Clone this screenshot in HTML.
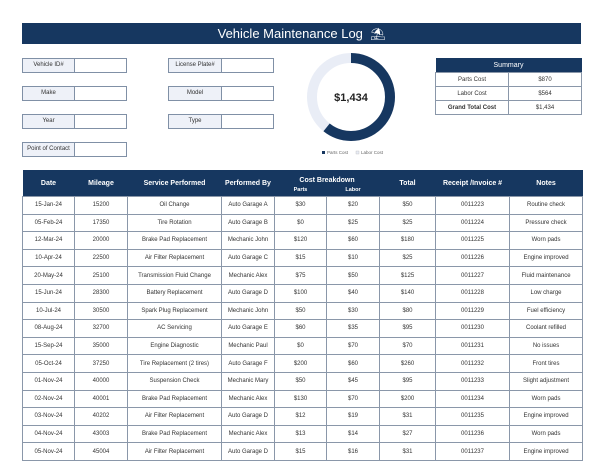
<!DOCTYPE html>
<html><head><style>
body{margin:0;width:600px;height:463px;background:#fff;font-family:"Liberation Sans",sans-serif;position:relative;overflow:hidden}
.a{position:absolute;box-sizing:border-box}
.bar{left:22px;top:23px;width:559px;height:21px;background:#163760;color:#fff;font-size:13px;text-align:center;line-height:21px}
.lb{background:#eef1f8;border:1px solid #8090a6;font-size:6px;color:#333;text-align:center;line-height:13px;height:15px}
.vb{background:#fff;border:1px solid #8090a6;height:15px}
table{border-collapse:collapse;table-layout:fixed;font-size:6px;color:#333}
td{border:1px solid #8a97a9;text-align:center;padding:0;height:16.6px;white-space:nowrap;overflow:hidden}
th{background:#163760;color:#fff;font-size:7px;font-weight:bold;border:none;padding:0}
.s td{height:13px}
</style></head><body>
<div class="a bar">Vehicle Maintenance Log &nbsp;<span style="font-size:12px">⛱</span></div>

<div class="a lb" style="left:22px;top:58px;width:53px">Vehicle ID#</div><div class="a vb" style="left:74px;top:58px;width:53px"></div>
<div class="a lb" style="left:22px;top:86px;width:53px">Make</div><div class="a vb" style="left:74px;top:86px;width:53px"></div>
<div class="a lb" style="left:22px;top:114px;width:53px">Year</div><div class="a vb" style="left:74px;top:114px;width:53px"></div>
<div class="a lb" style="left:22px;top:142px;width:53px">Point of Contact</div><div class="a vb" style="left:74px;top:142px;width:53px"></div>
<div class="a lb" style="left:168px;top:58px;width:54px">License Plate#</div><div class="a vb" style="left:221px;top:58px;width:53px"></div>
<div class="a lb" style="left:168px;top:86px;width:54px">Model</div><div class="a vb" style="left:221px;top:86px;width:53px"></div>
<div class="a lb" style="left:168px;top:114px;width:54px">Type</div><div class="a vb" style="left:221px;top:114px;width:53px"></div>

<svg class="a" style="left:300px;top:50px" width="110" height="110">
<circle cx="51" cy="47" r="39" fill="none" stroke="#e9edf6" stroke-width="10"/>
<circle cx="51" cy="47" r="39" fill="none" stroke="#163760" stroke-width="10" stroke-dasharray="148.7 245.04" transform="rotate(-90 51 47)"/>
<text x="51" y="51" font-size="11" font-weight="bold" text-anchor="middle" fill="#222" font-family="Liberation Sans">$1,434</text>
<rect x="22" y="101" width="3" height="3" fill="#163760"/><text x="27" y="104" font-size="4.5" fill="#666">Parts Cost</text>
<rect x="56" y="101" width="3" height="3" fill="#e9edf6" stroke="#aaa" stroke-width=".3"/><text x="61" y="104" font-size="4.5" fill="#666">Labor Cost</text>
</svg>

<table class="a s" style="left:435px;top:58px;width:147px;font-size:6px">
<tr><th colspan="2" style="height:14px;font-weight:normal">Summary</th></tr>
<tr><td>Parts Cost</td><td>$870</td></tr>
<tr><td>Labor Cost</td><td>$564</td></tr>
<tr><td style="font-weight:bold">Grand Total Cost</td><td>$1,434</td></tr>
</table>

<table class="a" style="left:22px;top:170px;width:560px">
<colgroup><col style="width:52px"><col style="width:53px"><col style="width:94px"><col style="width:53px"><col style="width:52px"><col style="width:53px"><col style="width:56px"><col style="width:74px"><col style="width:73px"></colgroup>
<tr><th rowspan="2" style="height:26px">Date</th><th rowspan="2">Mileage</th><th rowspan="2">Service Performed</th><th rowspan="2">Performed By</th><th colspan="2" style="height:14px;vertical-align:bottom">Cost Breakdown</th><th rowspan="2">Total</th><th rowspan="2">Receipt /Invoice #</th><th rowspan="2">Notes</th></tr>
<tr><th style="font-size:5.5px;height:12px">Parts</th><th style="font-size:5.5px">Labor</th></tr>
<tr><td>15-Jan-24</td><td>15200</td><td>Oil Change</td><td>Auto Garage A</td><td>$30</td><td>$20</td><td>$50</td><td>0011223</td><td>Routine check</td></tr>
<tr><td>05-Feb-24</td><td>17350</td><td>Tire Rotation</td><td>Auto Garage B</td><td>$0</td><td>$25</td><td>$25</td><td>0011224</td><td>Pressure check</td></tr>
<tr><td>12-Mar-24</td><td>20000</td><td>Brake Pad Replacement</td><td>Mechanic John</td><td>$120</td><td>$60</td><td>$180</td><td>0011225</td><td>Worn pads</td></tr>
<tr><td>10-Apr-24</td><td>22500</td><td>Air Filter Replacement</td><td>Auto Garage C</td><td>$15</td><td>$10</td><td>$25</td><td>0011226</td><td>Engine improved</td></tr>
<tr><td>20-May-24</td><td>25100</td><td>Transmission Fluid Change</td><td>Mechanic Alex</td><td>$75</td><td>$50</td><td>$125</td><td>0011227</td><td>Fluid maintenance</td></tr>
<tr><td>15-Jun-24</td><td>28300</td><td>Battery Replacement</td><td>Auto Garage D</td><td>$100</td><td>$40</td><td>$140</td><td>0011228</td><td>Low charge</td></tr>
<tr><td>10-Jul-24</td><td>30500</td><td>Spark Plug Replacement</td><td>Mechanic John</td><td>$50</td><td>$30</td><td>$80</td><td>0011229</td><td>Fuel efficiency</td></tr>
<tr><td>08-Aug-24</td><td>32700</td><td>AC Servicing</td><td>Auto Garage E</td><td>$60</td><td>$35</td><td>$95</td><td>0011230</td><td>Coolant refilled</td></tr>
<tr><td>15-Sep-24</td><td>35000</td><td>Engine Diagnostic</td><td>Mechanic Paul</td><td>$0</td><td>$70</td><td>$70</td><td>0011231</td><td>No issues</td></tr>
<tr><td>05-Oct-24</td><td>37250</td><td>Tire Replacement (2 tires)</td><td>Auto Garage F</td><td>$200</td><td>$60</td><td>$260</td><td>0011232</td><td>Front tires</td></tr>
<tr><td>01-Nov-24</td><td>40000</td><td>Suspension Check</td><td>Mechanic Mary</td><td>$50</td><td>$45</td><td>$95</td><td>0011233</td><td>Slight adjustment</td></tr>
<tr><td>02-Nov-24</td><td>40001</td><td>Brake Pad Replacement</td><td>Mechanic Alex</td><td>$130</td><td>$70</td><td>$200</td><td>0011234</td><td>Worn pads</td></tr>
<tr><td>03-Nov-24</td><td>40202</td><td>Air Filter Replacement</td><td>Auto Garage D</td><td>$12</td><td>$19</td><td>$31</td><td>0011235</td><td>Engine improved</td></tr>
<tr><td>04-Nov-24</td><td>43003</td><td>Brake Pad Replacement</td><td>Mechanic Alex</td><td>$13</td><td>$14</td><td>$27</td><td>0011236</td><td>Worn pads</td></tr>
<tr><td>05-Nov-24</td><td>45004</td><td>Air Filter Replacement</td><td>Auto Garage D</td><td>$15</td><td>$16</td><td>$31</td><td>0011237</td><td>Engine improved</td></tr>
</table>
</body></html>
